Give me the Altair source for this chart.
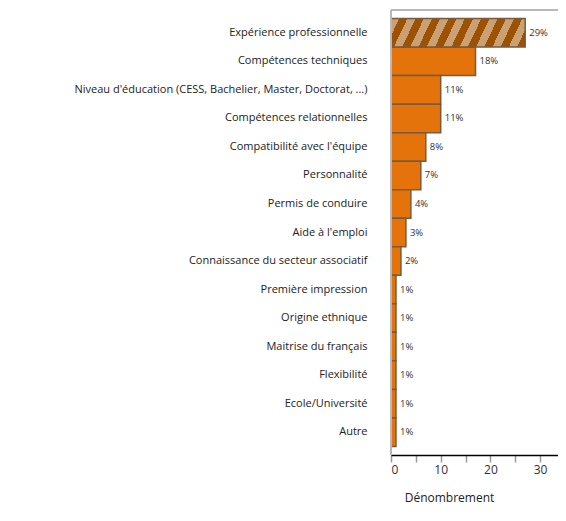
import altair as alt
import pandas as pd

categories = [
    "Expérience professionnelle",
    "Compétences techniques",
    "Niveau d'éducation (CESS, Bachelier, Master, Doctorat, ...)",
    "Compétences relationnelles",
    "Compatibilité avec l'équipe",
    "Personnalité",
    "Permis de conduire",
    "Aide à l'emploi",
    "Connaissance du secteur associatif",
    "Première impression",
    "Origine ethnique",
    "Maitrise du français",
    "Flexibilité",
    "Ecole/Université",
    "Autre",
]
counts = [27, 17, 10, 10, 7, 6, 4, 3, 2, 1, 1, 1, 1, 1, 1]
pct_labels = ["29%", "18%", "11%", "11%", "8%", "7%", "4%", "3%", "2%",
              "1%", "1%", "1%", "1%", "1%", "1%"]
x_ticks = [0, 5, 10, 15, 20, 25, 30]
x_max = 33.6

W, H = 167, 445
FONT = "Open Sans"
ORANGE = "#E3730A"
EDGE = "#7A5A3C"
DARK = "#9C5204"
TAN = "#CBA173"

df = pd.DataFrame({"cat": categories, "n": counts, "pct": pct_labels})

y_enc = alt.Y(
    "cat:N", sort=categories, title=None,
    scale=alt.Scale(domain=categories, paddingInner=0, paddingOuter=0.3),
    axis=alt.Axis(domain=False, ticks=False, labelFontSize=11, labelColor="#222",
                  labelPadding=24, labelLimit=420, labelFont=FONT),
)
x_enc = alt.X(
    "n:Q", title="Dénombrement",
    scale=alt.Scale(domain=[0, x_max], nice=False),
    axis=alt.Axis(values=x_ticks,
                  labelExpr="datum.value % 10 === 0 ? datum.label : ''",
                  grid=False, domainColor="#000", domainWidth=1.5,
                  tickColor="#999", tickSize=7, tickWidth=1.5,
                  labelFontSize=12, labelColor="#333", labelFont=FONT,
                  titleFontSize=12, titleFontWeight="normal", titleColor="#222",
                  titleFont=FONT, titleX=58, titleY=42, titleAlign="center",
                  titleBaseline="middle"),
)

# diagonal stripes via hard-stop linear gradient
N = 9
stops = []
for i in range(N):
    a, m, b = i / N, (i + 0.5) / N, (i + 1) / N
    stops += [alt.GradientStop(offset=a, color=TAN), alt.GradientStop(offset=m, color=TAN),
              alt.GradientStop(offset=m, color=DARK), alt.GradientStop(offset=b, color=DARK)]
hatch = alt.Gradient(gradient="linear", stops=stops, x1=0, y1=0, x2=1.09, y2=0.1105)

base = alt.Chart(df)
bars = base.mark_bar(fill=ORANGE, stroke=EDGE, strokeWidth=1.5).encode(
    x=x_enc, y=y_enc).transform_filter(alt.datum.cat != categories[0])
hbar = base.mark_bar(fill=hatch, stroke=EDGE, strokeWidth=1.5).encode(
    x=x_enc, y=y_enc).transform_filter(alt.datum.cat == categories[0])
text = base.mark_text(align="left", dx=4, fontSize=9.5, color="#333", font=FONT).encode(
    x=x_enc, y=y_enc, text="pct:N")

frame_df = pd.DataFrame({"k": [0]})
left_line = alt.Chart(frame_df).mark_rule(color="#b8b8b8", strokeWidth=2).encode(
    x=alt.value(0), y=alt.value(0), y2=alt.value(H))
top_line = alt.Chart(frame_df).mark_rule(color="#b8b8b8", strokeWidth=2).encode(
    x=alt.value(0), x2=alt.value(W), y=alt.value(0))

chart = alt.layer(bars, hbar, text, left_line, top_line).properties(
    width=W, height=H,
    autosize=alt.AutoSizeParams(type="none"),
    padding={"left": 383, "top": 2, "right": 0, "bottom": 53},
).configure_view(stroke=None).configure(font=FONT)

chart.save("out.html", embed_options={"renderer": "svg", "actions": False})
